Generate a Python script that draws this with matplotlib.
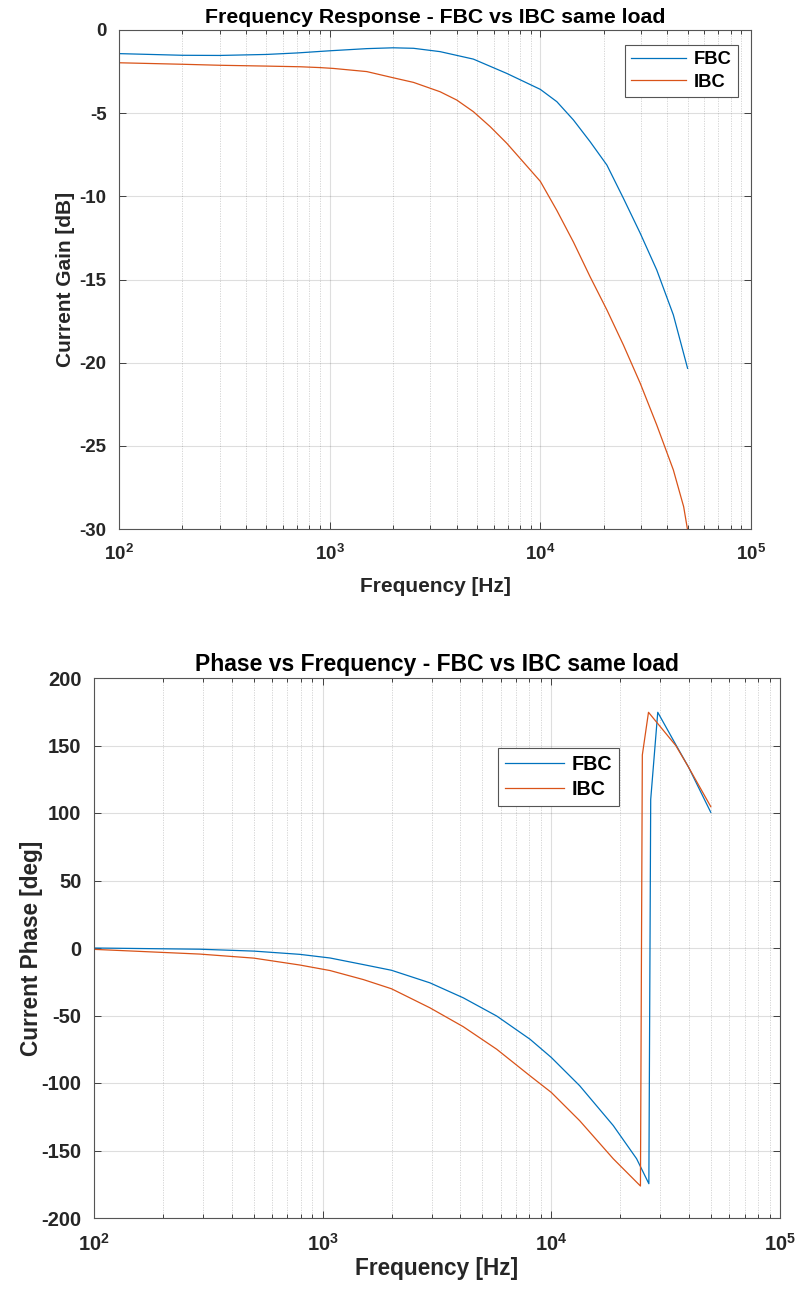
import math
import matplotlib
matplotlib.use("Agg")
import matplotlib.pyplot as plt
from matplotlib.ticker import FixedLocator, FuncFormatter, LogLocator, NullFormatter

# ---------------- data ----------------
gain_freq_fbc = [100, 200, 300, 500, 700, 1000, 1500, 2000, 2500, 3340, 4810, 6930, 10000,
                 11980, 14360, 17220, 20700, 24800, 29800, 35700, 42800, 50000]
gain_fbc = [-1.42, -1.52, -1.53, -1.47, -1.38, -1.25, -1.12, -1.07, -1.10, -1.30, -1.75, -2.61,
            -3.57, -4.31, -5.41, -6.71, -8.12, -10.12, -12.22, -14.43, -17.13, -20.34]

gain_freq_ibc = [100, 200, 300, 500, 724, 900, 1040, 1500, 2000, 2500, 3340, 4010, 4810, 5780,
                 6930, 8320, 10000, 11980, 14360, 17220, 20700, 24800, 29800, 35700, 42800,
                 47900, 50000]
gain_ibc = [-1.97, -2.06, -2.12, -2.17, -2.21, -2.26, -2.31, -2.50, -2.87, -3.15, -3.71, -4.21,
            -4.91, -5.81, -6.81, -7.95, -9.10, -10.85, -12.75, -14.83, -16.83, -18.94, -21.24,
            -23.75, -26.45, -28.66, -30.06]

phase_freq_fbc = [100, 290, 500, 794, 1077, 1507, 2000, 2944, 4120, 5770, 8070, 10000, 13300,
                  18650, 23600, 26700, 27200, 29200, 35000, 39800, 49800]
phase_fbc = [0.0, -0.9, -2.3, -4.7, -7.4, -12.3, -16.5, -25.8, -36.9, -50.4, -67.6, -81.1,
             -102.0, -131.5, -156.1, -174.6, 110.0, 174.6, 150.7, 134.0, 100.5]

phase_freq_ibc = [100, 290, 500, 794, 1077, 1507, 2000, 2944, 4120, 5770, 8070, 10000, 13300,
                  18650, 24530, 25000, 26600, 35000, 39800, 49800]
phase_ibc = [-1.0, -4.5, -7.5, -12.6, -16.7, -23.4, -30.2, -44.3, -58.3, -75.0, -94.7, -107.0,
             -127.9, -156.1, -176.3, 143.0, 174.6, 150.0, 134.0, 104.7]

series_labels = ["FBC", "IBC"]
colors = ["#0072BD", "#D95319"]

top_title = "Frequency Response - FBC vs IBC same load"
bot_title = "Phase vs Frequency - FBC vs IBC same load"
xlabel = "Frequency [Hz]"
top_ylabel = "Current Gain [dB]"
bot_ylabel = "Current Phase [deg]"
top_yticks = [-30, -25, -20, -15, -10, -5, 0]
bot_yticks = [-200, -150, -100, -50, 0, 50, 100, 150, 200]
x_decades = [2, 3, 4, 5]

# ---------------- style ----------------
plt.rcParams['font.family'] = ['Liberation Sans', 'DejaVu Sans']
plt.rcParams['font.weight'] = 'bold'
plt.rcParams['axes.unicode_minus'] = False
plt.rcParams['mathtext.fontset'] = 'custom'
plt.rcParams['mathtext.rm'] = 'Liberation Sans:bold'
plt.rcParams['mathtext.it'] = 'Liberation Sans:bold'
plt.rcParams['mathtext.bf'] = 'Liberation Sans:bold'
TXT = '#262626'

fig = plt.figure(figsize=(7.99, 12.95), dpi=100)
ax1 = fig.add_axes([119/799, 1 - 529/1295, 632/799, 499/1295])
ax2 = fig.add_axes([94/799, 1 - 1218/1295, 686/799, 540/1295])


def style(ax, tick_fs, yticks):
    ax.set_xscale('log')
    ax.set_xlim(10**x_decades[0], 10**x_decades[-1])
    ax.set_ylim(yticks[0], yticks[-1])
    ax.yaxis.set_major_locator(FixedLocator(yticks))
    ax.xaxis.set_major_locator(FixedLocator([10**d for d in x_decades]))
    ax.xaxis.set_major_formatter(FuncFormatter(lambda v, p: r'$10^{%d}$' % round(math.log10(v))))
    ax.xaxis.set_minor_locator(LogLocator(base=10, subs=range(2, 10)))
    ax.xaxis.set_minor_formatter(NullFormatter())
    ax.tick_params(which='both', direction='in', top=True, right=True, colors=TXT,
                   labelsize=tick_fs, width=0.6)
    ax.tick_params(which='major', length=5)
    ax.tick_params(which='minor', length=3)
    ax.tick_params(axis='y', which='major', pad=9)
    ax.tick_params(axis='x', which='major', pad=11)
    for lab in ax.get_xticklabels() + ax.get_yticklabels():
        lab.set_fontweight('bold')
    ax.grid(True, which='major', color=TXT, alpha=0.15, lw=0.8, ls='-')
    ax.grid(True, which='minor', axis='x', color=TXT, alpha=0.22, lw=0.6, ls=(0, (1.5, 1.5)))
    ax.set_axisbelow(True)
    for s in ax.spines.values():
        s.set_color('#555555')
        s.set_linewidth(0.8)


style(ax1, 13.5, top_yticks)
style(ax2, 14.5, bot_yticks)

ax1.plot(gain_freq_fbc, gain_fbc, color=colors[0], lw=0.9, label=series_labels[0])
ax1.plot(gain_freq_ibc, gain_ibc, color=colors[1], lw=0.9, label=series_labels[1])
ax2.plot(phase_freq_fbc, phase_fbc, color=colors[0], lw=0.9, label=series_labels[0])
ax2.plot(phase_freq_ibc, phase_ibc, color=colors[1], lw=0.9, label=series_labels[1])

ax1.set_title(top_title, fontsize=15.3, fontweight='bold', color='black', pad=5)
ax1.set_xlabel(xlabel, fontsize=15, fontweight='bold', color=TXT)
ax1.set_ylabel(top_ylabel, fontsize=15, fontweight='bold', color=TXT)
ax1.xaxis.set_label_coords(0.5, -0.096)
ax1.yaxis.set_label_coords(-0.085, 0.5)
ax2.set_title(bot_title, fontsize=16.5, fontweight='bold', color='black', pad=5)
ax2.set_xlabel(xlabel, fontsize=16.3, fontweight='bold', color=TXT)
ax2.set_ylabel(bot_ylabel, fontsize=16.3, fontweight='bold', color=TXT)
ax2.xaxis.set_label_coords(0.5, -0.072)
ax2.yaxis.set_label_coords(-0.091, 0.5)
ax1.xaxis.label.set_va('top')
ax2.xaxis.label.set_va('top')
ax1.yaxis.label.set_va('center')
ax2.yaxis.label.set_va('center')

for ax, anchor, fs in [(ax1, (0.80, 0.97), 13.2), (ax2, (0.589, 0.870), 14.2)]:
    leg = ax.legend(loc='upper left', bbox_to_anchor=anchor, fontsize=fs, frameon=True,
                    fancybox=False, edgecolor='#555555', framealpha=1, handlelength=3.0,
                    handletextpad=0.4, borderpad=0.35, labelspacing=0.3, borderaxespad=0)
    leg.get_frame().set_linewidth(0.8)
    for t in leg.get_texts():
        t.set_fontweight('bold')
        t.set_color('black')

fig.savefig('out.png', dpi=100)
